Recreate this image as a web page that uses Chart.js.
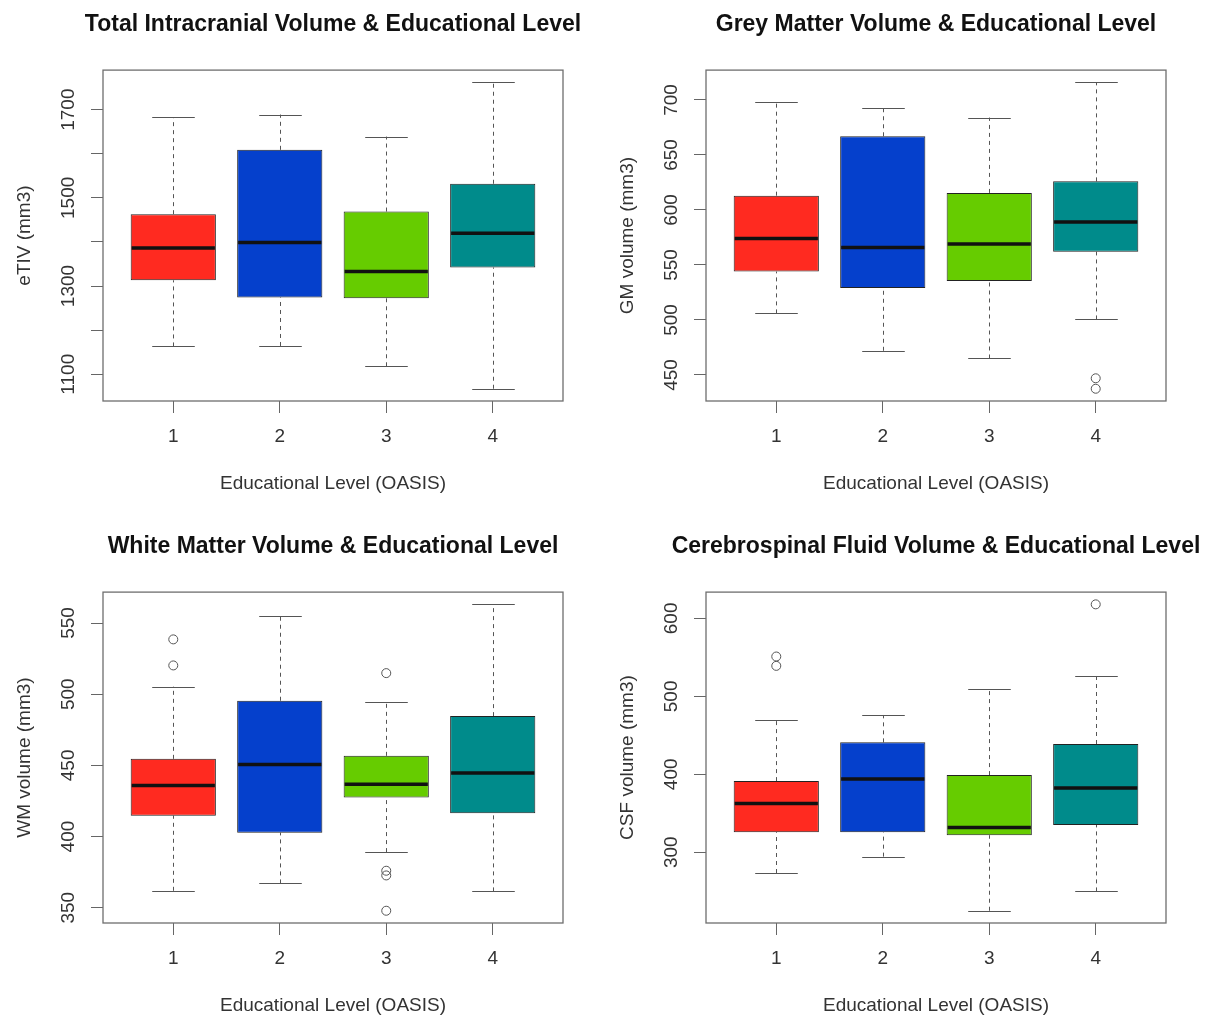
<!DOCTYPE html>
<html>
<head>
<meta charset="utf-8">
<title>Brain volumes and educational level</title>
<script src="https://cdn.jsdelivr.net/npm/chart.js@4/dist/chart.umd.min.js"></script>
<style>
  html, body { margin: 0; padding: 0; background: #fff; overflow: hidden; width: 1213px; height: 1017px; }
  canvas { position: absolute; }
</style>
</head>
<body>
<canvas id="tiv" width="640" height="522" style="left:13px;top:0px"></canvas>
<canvas id="gm" width="640" height="522" style="left:616px;top:0px"></canvas>
<canvas id="wm" width="640" height="522" style="left:13px;top:522px"></canvas>
<canvas id="csf" width="640" height="522" style="left:616px;top:522px"></canvas>
<script>
const levels = [1, 2, 3, 4];
const boxColors = ["#ff2a20", "#0540cc", "#66cc00", "#008b8b"];

// Total intracranial volume
const tivLow = [1163, 1164, 1118, 1067];
const tivQ1 = [1313, 1274, 1272, 1342];
const tivMedian = [1386, 1399, 1333, 1420];
const tivQ3 = [1463, 1609, 1469, 1532];
const tivHigh = [1683, 1689, 1639, 1762];
const tivOutLevel = [];
const tivOutValue = [];
const tivTicks = [1100, 1200, 1300, 1400, 1500, 1600, 1700];
const tivTickLabels = [1100, 1300, 1500, 1700];

// Grey matter
const gmLow = [506, 472, 465, 500.5];
const gmQ1 = [544, 529, 535.5, 562];
const gmMedian = [574, 566, 569, 589];
const gmQ3 = [613, 667, 615.5, 626];
const gmHigh = [698.5, 693, 684, 716];
const gmOutLevel = [4, 4];
const gmOutValue = [447, 437.5];
const gmTicks = [450, 500, 550, 600, 650, 700];
const gmTickLabels = [450, 500, 550, 600, 650, 700];

// White matter
const wmLow = [361.9, 367.1, 389.1, 361.5];
const wmQ1 = [414.7, 402.7, 427.4, 416.3];
const wmMedian = [435.8, 450.6, 436.7, 444.7];
const wmQ3 = [454.6, 495.4, 456.7, 484.6];
const wmHigh = [505.4, 555, 494.7, 563.1];
const wmOutLevel = [1, 1, 3, 3, 3, 3];
const wmOutValue = [538.5, 520.2, 514.8, 376, 372.7, 347.9];
const wmTicks = [350, 400, 450, 500, 550];
const wmTickLabels = [350, 400, 450, 500, 550];

// Cerebrospinal fluid
const csfLow = [273.4, 294.4, 225, 249.8];
const csfQ1 = [325.7, 325.7, 321.9, 335.1];
const csfMedian = [362.6, 393.9, 331.7, 382.3];
const csfQ3 = [391.3, 441, 399, 438.9];
const csfHigh = [469.3, 476.1, 510, 526.7];
const csfOutLevel = [1, 1, 4];
const csfOutValue = [551.1, 539.1, 618];
const csfTicks = [300, 400, 500, 600];
const csfTickLabels = [300, 400, 500, 600];

const FONT = '"Liberation Sans", Arial, sans-serif';
Chart.defaults.font.family = FONT;
Chart.defaults.color = "#333";

function boxParts(low, q1, med, q3, high, tickLabels) {
  return {
    id: "boxParts",
    beforeDatasetsDraw(chart) {
      const { ctx, chartArea: a, scales: { x, y } } = chart;
      const bars = chart.getDatasetMeta(0).data;
      ctx.save();
      ctx.strokeStyle = "#6e6e6e";
      ctx.lineWidth = 1.3;
      ctx.strokeRect(a.left, a.top, a.right - a.left, a.bottom - a.top);
      ctx.strokeStyle = "#555";
      ctx.lineWidth = 1;
      levels.forEach((lv, i) => {
        const cx = Math.round(x.getPixelForValue(lv)) + 0.5;
        const half = bars[i].width / 4;
        ctx.setLineDash([4, 4]);
        ctx.beginPath();
        ctx.moveTo(cx, y.getPixelForValue(low[i]));
        ctx.lineTo(cx, y.getPixelForValue(q1[i]));
        ctx.moveTo(cx, y.getPixelForValue(q3[i]));
        ctx.lineTo(cx, y.getPixelForValue(high[i]));
        ctx.stroke();
        ctx.setLineDash([]);
        ctx.beginPath();
        [low[i], high[i]].forEach(v => {
          const py = Math.round(y.getPixelForValue(v)) + 0.5;
          ctx.moveTo(cx - half, py);
          ctx.lineTo(cx + half, py);
        });
        ctx.stroke();
      });
      ctx.restore();
    },
    afterDatasetsDraw(chart) {
      const { ctx, scales: { x, y } } = chart;
      const bars = chart.getDatasetMeta(0).data;
      ctx.save();
      ctx.strokeStyle = "#111";
      ctx.lineWidth = 3.5;
      levels.forEach((lv, i) => {
        const cx = x.getPixelForValue(lv);
        const half = bars[i].width / 2 - 1;
        const py = y.getPixelForValue(med[i]);
        ctx.beginPath();
        ctx.moveTo(cx - half, py);
        ctx.lineTo(cx + half, py);
        ctx.stroke();
      });
      ctx.restore();
    },
    afterDraw(chart) {
      // y tick labels run along the axis, as in R
      const { ctx, chartArea: a, scales: { y } } = chart;
      ctx.save();
      ctx.font = "19px " + FONT;
      ctx.fillStyle = "#333";
      ctx.textAlign = "center";
      ctx.textBaseline = "middle";
      tickLabels.forEach(v => {
        ctx.save();
        ctx.translate(a.left - 34, y.getPixelForValue(v));
        ctx.rotate(-Math.PI / 2);
        ctx.fillText(String(v), 0, 0);
        ctx.restore();
      });
      ctx.restore();
    }
  };
}

function panel(id, title, yTitle, low, q1, med, q3, high, outLevel, outValue, ticks, tickLabels) {
  const all = low.concat(high, outValue);
  const lo = Math.min(...all), hi = Math.max(...all);
  const pad = (hi - lo) * 0.04;

  new Chart(document.getElementById(id), {
    type: "bar",
    data: {
      datasets: [
        {
          type: "bar",
          data: levels.map((lv, i) => ({ x: lv, y: [q1[i], q3[i]] })),
          backgroundColor: boxColors,
          borderColor: "#222",
          borderWidth: 1,
          borderSkipped: false,
          barPercentage: 0.8,
          categoryPercentage: 1
        },
        {
          type: "scatter",
          data: outLevel.map((lv, i) => ({ x: lv, y: outValue[i] })),
          pointStyle: "circle",
          pointRadius: 4.5,
          pointBorderColor: "#555",
          pointBackgroundColor: "rgba(0,0,0,0)",
          pointBorderWidth: 1
        }
      ]
    },
    options: {
      responsive: false,
      devicePixelRatio: 1,
      animation: false,
      layout: { padding: { left: 0, right: 0, top: 0, bottom: 27 } },
      plugins: {
        legend: { display: false },
        tooltip: { enabled: false },
        title: {
          display: true,
          text: title,
          color: "#111",
          font: { size: 23, weight: "bold", lineHeight: 1.2 },
          padding: { top: 11, bottom: 31.5 }
        }
      },
      scales: {
        x: {
          type: "linear",
          min: 0.5 - 0.16,
          max: 4.5 + 0.16,
          offset: false,
          afterBuildTicks: s => { s.ticks = levels.map(v => ({ value: v })); },
          afterFit: s => { s.height = 94; },
          grid: { display: true, drawOnChartArea: false, drawTicks: true, tickLength: 12, color: "#666", offset: false },
          border: { display: false },
          ticks: { font: { size: 19 }, color: "#333", padding: 12, callback: v => String(v) },
          title: { display: true, text: "Educational Level (OASIS)", font: { size: 19, lineHeight: 1.2 }, color: "#333", padding: 0 }
        },
        y: {
          type: "linear",
          min: lo - pad,
          max: hi + pad,
          afterBuildTicks: s => { s.ticks = ticks.map(v => ({ value: v })); },
          afterFit: s => { s.width = 90; },
          grid: { display: true, drawOnChartArea: false, drawTicks: true, tickLength: 12, color: "#666" },
          border: { display: false },
          ticks: { display: false },
          title: { display: true, text: yTitle, font: { size: 19, lineHeight: 1.2 }, color: "#333", padding: 0 }
        },
        yRight: {
          type: "linear",
          position: "right",
          afterFit: s => { s.width = 90; },
          grid: { display: false },
          border: { display: false },
          ticks: { display: false }
        }
      }
    },
    plugins: [boxParts(low, q1, med, q3, high, tickLabels)]
  });
}

panel("tiv", "Total Intracranial Volume & Educational Level", "eTIV (mm3)",
  tivLow, tivQ1, tivMedian, tivQ3, tivHigh, tivOutLevel, tivOutValue, tivTicks, tivTickLabels);
panel("gm", "Grey Matter Volume & Educational Level", "GM volume (mm3)",
  gmLow, gmQ1, gmMedian, gmQ3, gmHigh, gmOutLevel, gmOutValue, gmTicks, gmTickLabels);
panel("wm", "White Matter Volume & Educational Level", "WM volume (mm3)",
  wmLow, wmQ1, wmMedian, wmQ3, wmHigh, wmOutLevel, wmOutValue, wmTicks, wmTickLabels);
panel("csf", "Cerebrospinal Fluid Volume & Educational Level", "CSF volume (mm3)",
  csfLow, csfQ1, csfMedian, csfQ3, csfHigh, csfOutLevel, csfOutValue, csfTicks, csfTickLabels);
</script>
</body>
</html>
